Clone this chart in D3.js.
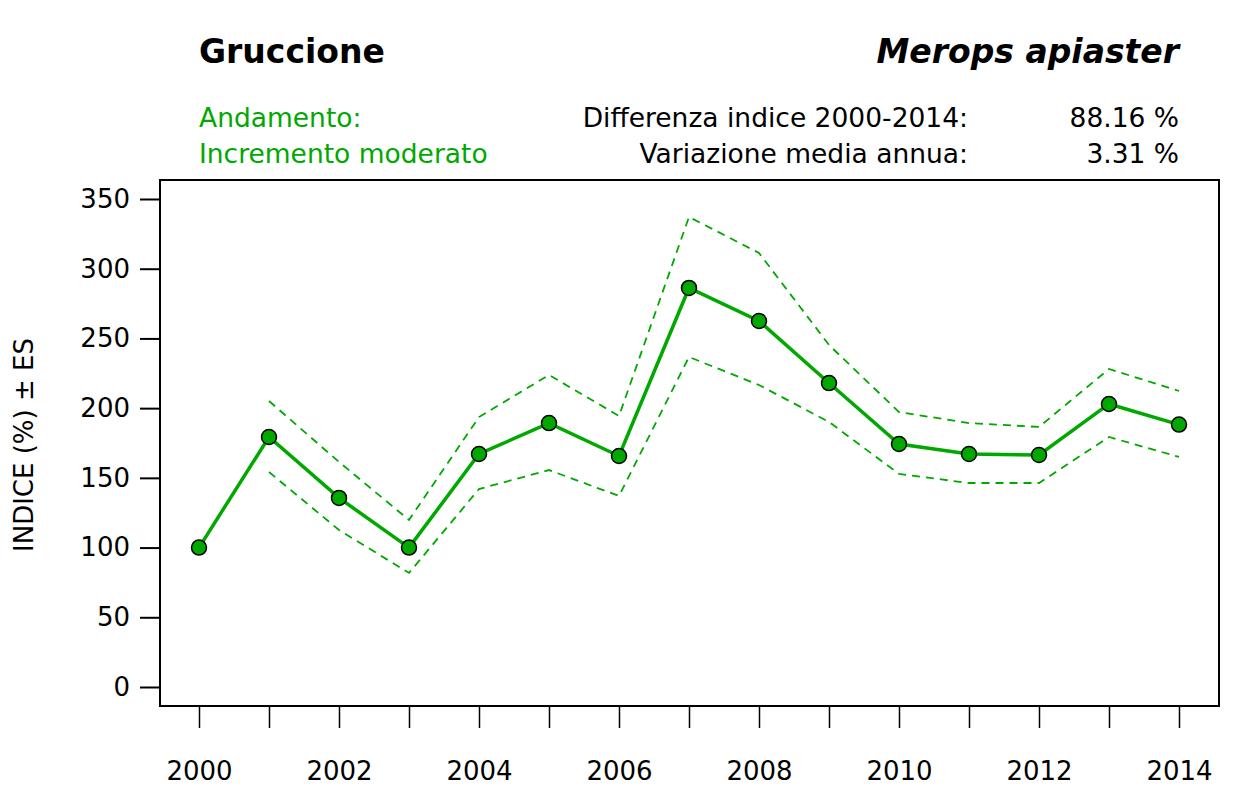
<!DOCTYPE html>
<html>
<head>
<meta charset="utf-8">
<script src="https://cdn.jsdelivr.net/npm/d3@7"></script>
<style>
body { margin: 0; background: #fff; }
text { font-family: "DejaVu Sans", Verdana, sans-serif; }
</style>
</head>
<body>
<div id="chart"></div>
<script>
// data
var years = [2000, 2001, 2002, 2003, 2004, 2005, 2006, 2007, 2008, 2009, 2010, 2011, 2012, 2013, 2014];
var indexValues = [100, 179.3, 135.6, 100, 167.1, 189.3, 165.7, 286.2, 262.5, 218.0, 174.3, 167.1, 166.4, 203.0, 188.2];
var upperValues = [null, 205.1, 161.4, 119.8, 193.6, 223.8, 194.4, 337.1, 311.3, 245.3, 197.2, 189.3, 186.5, 228.1, 212.3];
var lowerValues = [null, 154.2, 112.6, 81.8, 142.0, 155.6, 137.0, 236.7, 216.6, 190.1, 152.8, 146.3, 146.3, 179.3, 165.0];
var yTicks = [0, 50, 100, 150, 200, 250, 300, 350];
var xLabelYears = [2000, 2002, 2004, 2006, 2008, 2010, 2012, 2014];

var W = 1259, H = 787;
var box = { left: 160, top: 180, right: 1219, bottom: 706 };
var green = "#00a800";

var svg = d3.select("#chart").append("svg")
    .attr("width", W)
    .attr("height", H);

var x = d3.scaleLinear().domain([2000, 2014]).range([199, 1179]);
var y = d3.scaleLinear().domain([0, 350]).range([687, 199]);

// header texts
svg.append("text").attr("x", 199).attr("y", 63)
    .attr("font-size", 33).attr("font-weight", "bold").text("Gruccione");
svg.append("text").attr("x", 1179).attr("y", 63).attr("text-anchor", "end")
    .attr("font-size", 33).attr("font-weight", "bold").attr("font-style", "italic")
    .text("Merops apiaster");

var fs = 26.5;
svg.append("text").attr("x", 199).attr("y", 127).attr("font-size", fs)
    .attr("fill", green).text("Andamento:");
svg.append("text").attr("x", 199).attr("y", 163).attr("font-size", fs)
    .attr("fill", green).text("Incremento moderato");

svg.append("text").attr("x", 968).attr("y", 127).attr("font-size", fs)
    .attr("text-anchor", "end").text("Differenza indice 2000-2014:");
svg.append("text").attr("x", 968).attr("y", 163).attr("font-size", fs)
    .attr("text-anchor", "end").text("Variazione media annua:");
svg.append("text").attr("x", 1179).attr("y", 127).attr("font-size", fs)
    .attr("text-anchor", "end").text("88.16 %");
svg.append("text").attr("x", 1179).attr("y", 163).attr("font-size", fs)
    .attr("text-anchor", "end").text("3.31 %");

// plot box
svg.append("rect")
    .attr("x", box.left).attr("y", box.top)
    .attr("width", box.right - box.left).attr("height", box.bottom - box.top)
    .attr("fill", "none").attr("stroke", "#000").attr("stroke-width", 2);

// y axis
var yAxis = d3.axisLeft(y).tickValues(yTicks).tickSize(20).tickPadding(10);
var gy = svg.append("g").attr("transform", "translate(" + box.left + ",0)").call(yAxis);
gy.select(".domain").remove();
gy.selectAll("line").attr("stroke-width", 2);
gy.selectAll("text").attr("font-size", 26).attr("font-family", "DejaVu Sans, sans-serif").attr("fill", "#000");

svg.append("text")
    .attr("transform", "translate(33,445) rotate(-90)")
    .attr("text-anchor", "middle").attr("font-size", 26)
    .text("INDICE (%) \u00b1 ES");

// x axis: ticks every year, labels every 2 years
var xAxis = d3.axisBottom(x).tickValues(years).tickSize(22)
    .tickFormat(function (d) { return xLabelYears.indexOf(d) >= 0 ? d : ""; })
    .tickPadding(34);
var gx = svg.append("g").attr("transform", "translate(0," + box.bottom + ")").call(xAxis);
gx.select(".domain").remove();
gx.selectAll("line").attr("stroke-width", 1.5);
gx.selectAll("text").attr("font-size", 26).attr("font-family", "DejaVu Sans, sans-serif").attr("fill", "#000");

// lines
var pts = years.map(function (yr, i) {
    return { year: yr, v: indexValues[i], up: upperValues[i], lo: lowerValues[i] };
});

function band(key) {
    return d3.line()
        .defined(function (d) { return d[key] != null; })
        .x(function (d) { return x(d.year); })
        .y(function (d) { return y(d[key]); });
}

svg.append("path").datum(pts).attr("d", band("up"))
    .attr("fill", "none").attr("stroke", green).attr("stroke-width", 1.8)
    .attr("stroke-dasharray", "8,6");
svg.append("path").datum(pts).attr("d", band("lo"))
    .attr("fill", "none").attr("stroke", green).attr("stroke-width", 1.8)
    .attr("stroke-dasharray", "8,6");

svg.append("path").datum(pts).attr("d", band("v"))
    .attr("fill", "none").attr("stroke", green).attr("stroke-width", 3.5);

svg.selectAll(".pt").data(pts).enter().append("circle")
    .attr("class", "pt")
    .attr("cx", function (d) { return x(d.year); })
    .attr("cy", function (d) { return y(d.v); })
    .attr("r", 7.5)
    .attr("fill", green).attr("stroke", "#000").attr("stroke-width", 1.5);
</script>
</body>
</html>
